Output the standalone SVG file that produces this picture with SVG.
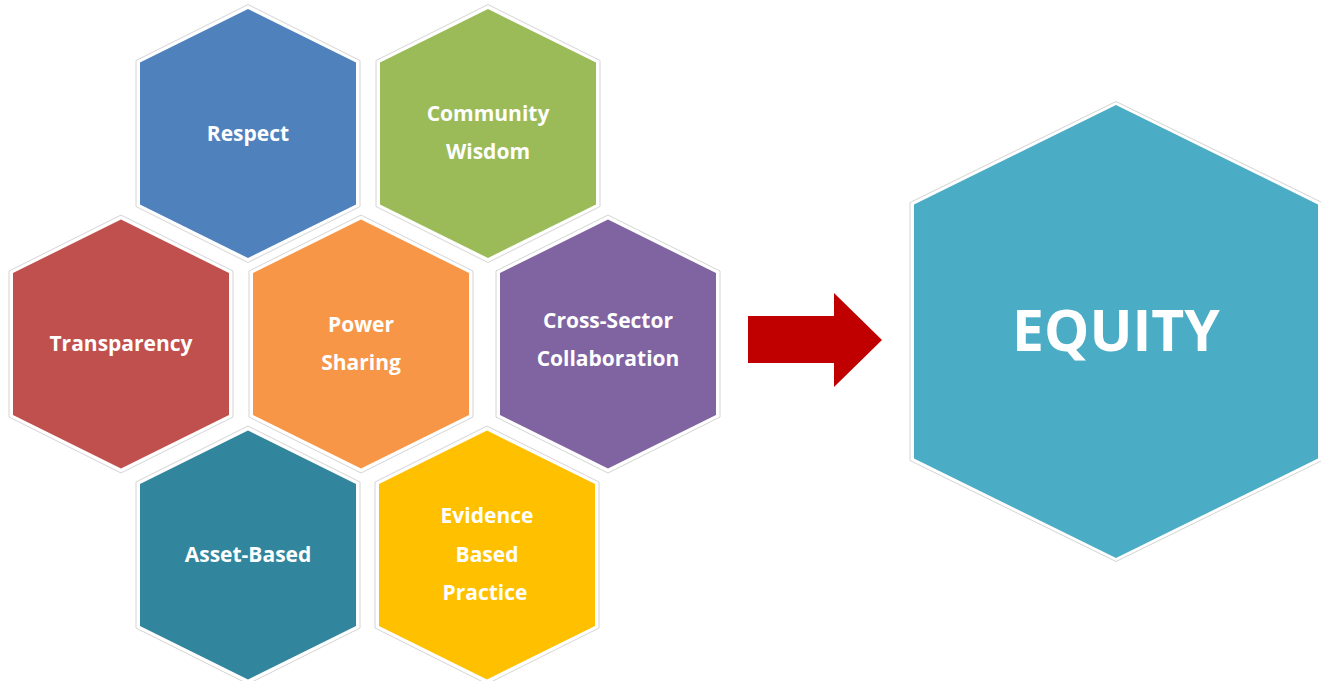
<svg xmlns="http://www.w3.org/2000/svg" xmlns:xlink="http://www.w3.org/1999/xlink" width="1321" height="681" viewBox="0 0 1321 681">
<style>
.out{fill:#ffffff;stroke:#d4d4d4;stroke-width:1}
.lbl{font-family:"Open Sans","Liberation Sans",sans-serif;font-weight:700;font-size:21px;fill:#ffffff;text-anchor:middle}
.big{font-family:"Open Sans","Liberation Sans",sans-serif;font-weight:700;font-size:57px;fill:#ffffff;text-anchor:middle}
</style>
<defs>
<polygon id="hexOut" points="0,-129 112,-73 112,73 0,129 -112,73 -112,-73"/>
<polygon id="hex" points="0,-124.5 108,-71 108,71 0,124.5 -108,71 -108,-71"/>
</defs>
<rect width="1321" height="681" fill="#ffffff"/>
<g id="respect" transform="translate(248,133.5)">
<use xlink:href="#hexOut" class="out"/>
<use xlink:href="#hex" fill="#4F81BD"/>
<text class="lbl" x="0" y="7">Respect</text>
</g>
<g id="community-wisdom" transform="translate(488,133.5)">
<use xlink:href="#hexOut" class="out"/>
<use xlink:href="#hex" fill="#9BBB59"/>
<text class="lbl" x="0" y="-13">Community</text>
<text class="lbl" x="0" y="25">Wisdom</text>
</g>
<g id="transparency" transform="translate(121,344)">
<use xlink:href="#hexOut" class="out"/>
<use xlink:href="#hex" fill="#C0504D"/>
<text class="lbl" x="0" y="7">Transparency</text>
</g>
<g id="power-sharing" transform="translate(361,344)">
<use xlink:href="#hexOut" class="out"/>
<use xlink:href="#hex" fill="#F79646"/>
<text class="lbl" x="0" y="-12">Power</text>
<text class="lbl" x="0" y="26">Sharing</text>
</g>
<g id="cross-sector" transform="translate(608,344)">
<use xlink:href="#hexOut" class="out"/>
<use xlink:href="#hex" fill="#8064A2"/>
<text class="lbl" x="0" y="-16">Cross-Sector</text>
<text class="lbl" x="0" y="22">Collaboration</text>
</g>
<g id="asset-based" transform="translate(248,555)">
<use xlink:href="#hexOut" class="out"/>
<use xlink:href="#hex" fill="#31859C"/>
<text class="lbl" x="0" y="7">Asset-Based</text>
</g>
<g id="evidence" transform="translate(487,555)">
<use xlink:href="#hexOut" class="out"/>
<use xlink:href="#hex" fill="#FFC000"/>
<text class="lbl" x="0" y="-32">Evidence</text>
<text class="lbl" x="0" y="7">Based</text>
<text class="lbl" x="-2" y="45">Practice</text>
</g>
<g id="connectors">
<polygon points="748,316 834,316 834,293 882,340 834,387 834,363 748,363" fill="#C00000"/>
</g>
<g id="equity" transform="translate(1116,331.5)">
<polygon class="out" points="0,-230 206,-129 206,129 0,230 -206,129 -206,-129"/>
<polygon fill="#4BACC6" points="0,-226.5 202,-127 202,127 0,226.5 -202,127 -202,-127"/>
<text class="big" x="0" y="19">EQUITY</text>
</g>
</svg>
